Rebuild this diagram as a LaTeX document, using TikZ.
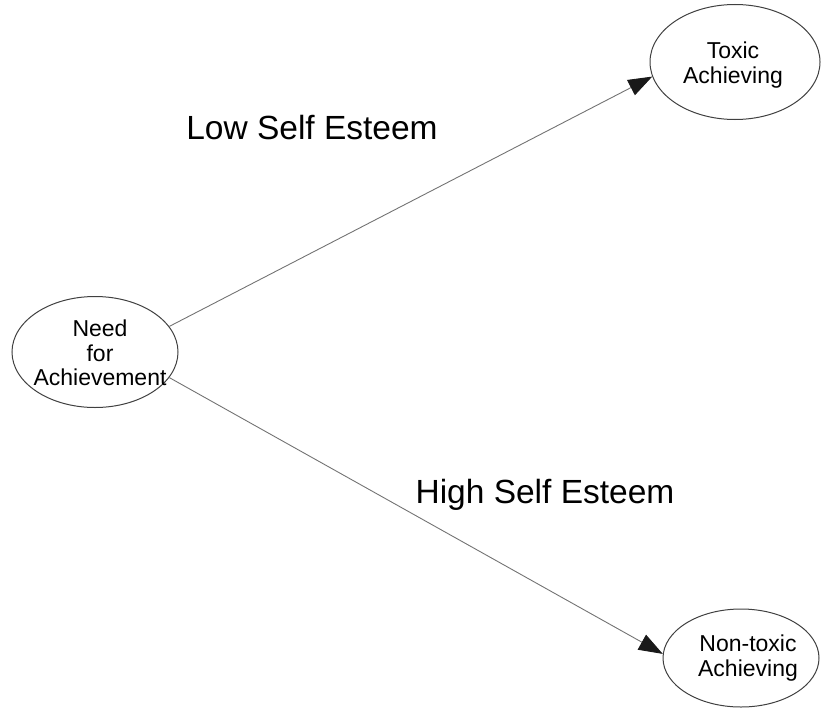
\documentclass[tikz,border=0pt]{standalone}
\usepackage{fontspec}
\setmainfont{Liberation Sans}
\usetikzlibrary{shapes,arrows.meta}

\begin{document}
\begin{tikzpicture}[x=1pt,y=-1pt,
  state/.style={ellipse, draw=black!75, line width=1pt, inner sep=0pt},
  statetext/.style={align=center, font=\fontsize{23}{24.5}\selectfont},
  path/.style={draw=black!55, line width=0.9pt, -{Triangle[length=24pt,width=17pt,color=black!90]}},
  pathlabel/.style={font=\fontsize{33.5}{36}\selectfont}]
\useasboundingbox (0,0) rectangle (821,709);
\node[state, minimum width=166pt, minimum height=111pt] (need) at (95,352) {};
\node[state, minimum width=170pt, minimum height=115pt] (toxic) at (735,62) {};
\node[state, minimum width=156pt, minimum height=98pt] (nontoxic) at (741,658) {};
\node[statetext] (needtext) at (100,353) {Need\\for\\Achievement};
\node[statetext] (toxictext) at (733,65) {Toxic\\Achieving};
\node[statetext] (nontoxictext) at (748,658) {Non-toxic\\Achieving};
\draw[path] (need.19) -- (toxic.190);
\draw[path] (need.341) -- (nontoxic.177);
\node[pathlabel] (low) at (312,128) {Low Self Esteem};
\node[pathlabel] (high) at (545,495) {High Self Esteem};
\end{tikzpicture}
\end{document}
